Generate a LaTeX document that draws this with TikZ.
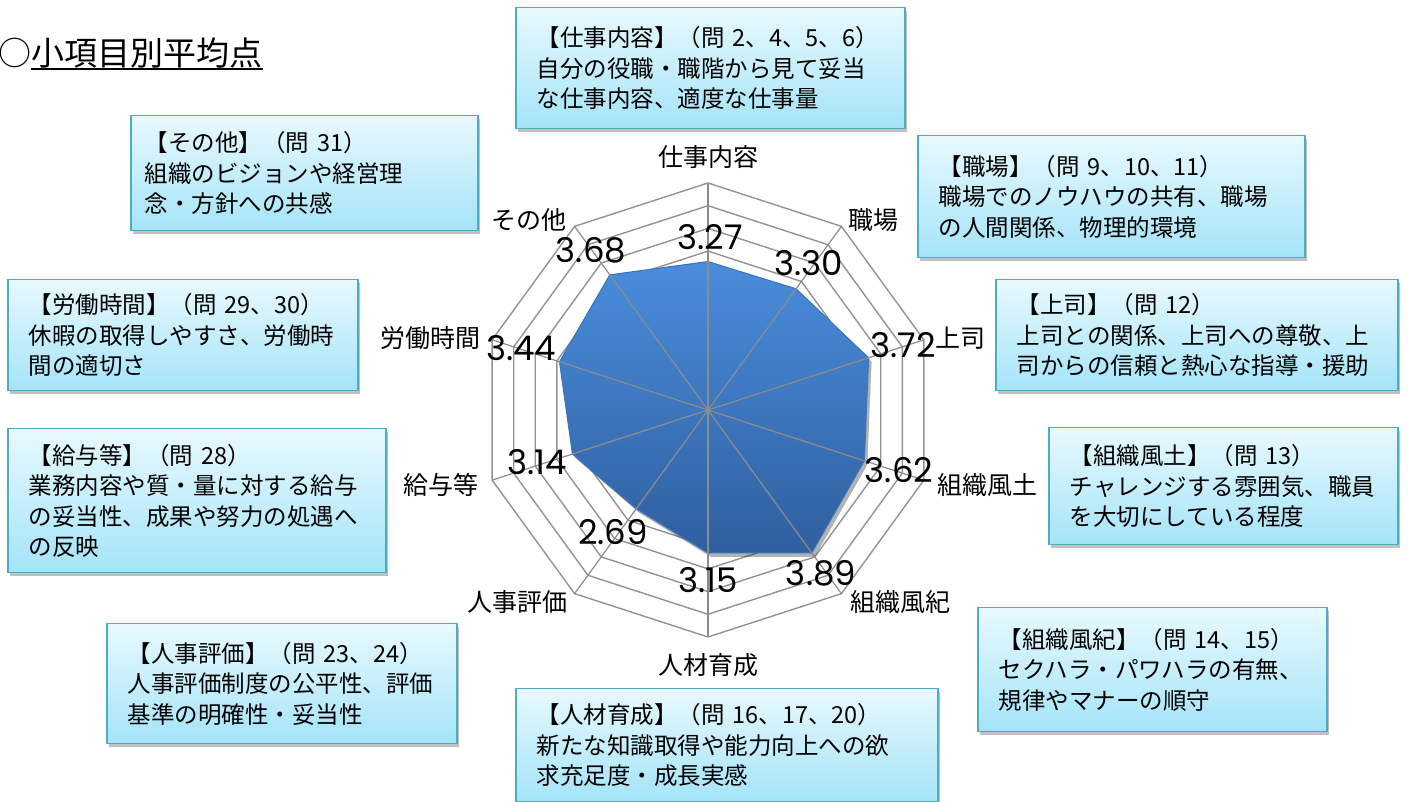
\documentclass[tikz,border=0pt]{standalone}
\usepackage{fontspec}
\setmainfont{Noto Sans CJK JP}
\newfontfamily\numfont{Poppins}
\usetikzlibrary{shadows}

\definecolor{boxline}{HTML}{4BACC6}
\definecolor{boxtop}{HTML}{E8F9FE}
\definecolor{boxbot}{HTML}{A4E4F8}
\definecolor{areatop}{HTML}{4A8DDC}
\definecolor{areabot}{HTML}{2F5F9F}
\definecolor{areaedge}{HTML}{3A74BC}
\definecolor{gridgray}{HTML}{939393}
\definecolor{spokegray}{HTML}{8C8C8C}

\begin{document}
\begin{tikzpicture}[x=1pt,y=1pt]
                \tikzstyle{infobox}=[draw=boxline, line width=1.5pt, top color=boxtop, bottom color=boxbot,
                  drop shadow={shadow xshift=2pt, shadow yshift=-3pt, opacity=0.35, fill=black!70},
                  anchor=north west, inner xsep=21pt, inner ysep=0pt, align=left,
                  font=\fontsize{23.5}{30.5}\selectfont]
                \tikzstyle{axislabel}=[font=\fontsize{25}{25}\selectfont, inner sep=0pt]
                \tikzstyle{val}=[font=\numfont\fontsize{34}{34}\selectfont, inner sep=0pt]
                \tikzstyle{ring}=[draw=gridgray, line width=1.4pt]
                \tikzstyle{spoke}=[draw=spokegray, line width=1.2pt]
                \tikzstyle{area}=[top color=areatop, bottom color=areabot, draw=areaedge, line width=1pt,
                  drop shadow={shadow xshift=3pt, shadow yshift=-4pt, opacity=0.3, fill=black}]
                \tikzstyle{heading}=[font=\fontsize{33}{33}\selectfont, inner sep=0pt, anchor=base west]

                \useasboundingbox (0,0) rectangle (1408,802);

                \node[heading] (mark) at (-2,736.5) {○};
                \node[heading] (title) at (mark.base east) {小項目別平均点};
                \draw[line width=1.6pt] ([yshift=-3.5pt]title.base west) -- ([yshift=-3.5pt]title.base east);

                \begin{scope}[shift={(708,392)}]
                  \coordinate (c) at (0,0);
                  \foreach \k in {1,...,10}
                    \draw[ring] (90:\k*22.7) \foreach \a in {54,18,...,-234} {-- (\a:\k*22.7)} -- cycle;
                  \foreach \i in {0,...,9}
                    \coordinate (o\i) at ({90-36*\i}:227);
                  \foreach \v [count=\i from 0] in {3.27,3.30,3.72,3.62,3.89,3.15,2.69,3.14,3.44,3.68}
                    \coordinate (p\i) at ({90-36*\i}:\v*45.4);
                  \path[area] (p0) -- (p1) -- (p2) -- (p3) -- (p4) -- (p5) -- (p6) -- (p7) -- (p8) -- (p9) -- cycle;
                  \foreach \i in {0,...,9}
                    \draw[spoke] (c) -- (o\i);
                \end{scope}

                \node[val] (v0) at (710,565) {3.27};
                \node[val] (v1) at (809,539) {3.30};
                \node[val] (v2) at (903,457) {3.72};
                \node[val] (v3) at (899,332) {3.62};
                \node[val] (v4) at (821,229) {3.89};
                \node[val] (v5) at (708,222) {3.15};
                \node[val] (v6) at (613,270) {2.69};
                \node[val] (v7) at (537,340) {3.14};
                \node[val] (v8) at (521,454) {3.44};
                \node[val] (v9) at (591,552) {3.68};

                \node[axislabel] (a0) at (708,645) {仕事内容};
                \node[axislabel] (a1) at (873,582) {職場};
                \node[axislabel] (a2) at (960,464) {上司};
                \node[axislabel] (a3) at (987,317) {組織風土};
                \node[axislabel] (a4) at (900,200) {組織風紀};
                \node[axislabel] (a5) at (708,137) {人材育成};
                \node[axislabel] (a6) at (517,200) {人事評価};
                \node[axislabel] (a7) at (441,317) {給与等};
                \node[axislabel] (a8) at (430,464) {労働時間};
                \node[axislabel] (a9) at (529,582) {その他};

                \node[infobox, text width=347pt, minimum height=121pt] (shigoto) at (515,795)
                  {【仕事内容】（問~2、4、5、6）\\自分の役職・職階から見て妥当\\な仕事内容、適度な仕事量};
                \node[infobox, inner xsep=14pt, text width=319pt, minimum height=115pt] (sonota) at (130,687)
                  {【その他】（問~31）\\組織のビジョンや経営理\\念・方針への共感};
                \node[infobox, text width=345pt, minimum height=122pt] (shokuba) at (917,667)
                  {【職場】（問~9、10、11）\\職場でのノウハウの共有、職場\\の人間関係、物理的環境};
                \node[infobox, text width=308pt, minimum height=111pt] (roudou) at (7,523)
                  {【労働時間】（問~29、30）\\休暇の取得しやすさ、労働時\\間の適切さ};
                \node[infobox, text width=360pt, minimum height=111pt] (joushi) at (995,523)
                  {【上司】（問~12）\\上司との関係、上司への尊敬、上\\司からの信頼と熱心な指導・援助};
                \node[infobox, text width=336pt, minimum height=144pt] (kyuyo) at (7,374)
                  {【給与等】（問~28）\\業務内容や質・量に対する給与\\の妥当性、成果や努力の処遇へ\\の反映};
                \node[infobox, text width=307pt, minimum height=117pt] (fudo) at (1048,375)
                  {【組織風土】（問~13）\\チャレンジする雰囲気、職員\\を大切にしている程度};
                \node[infobox, text width=308pt, minimum height=120pt] (jinji) at (106,179)
                  {【人事評価】（問~23、24）\\人事評価制度の公平性、評価\\基準の明確性・妥当性};
                \node[infobox, text width=307pt, minimum height=124pt] (fuki) at (977,195)
                  {【組織風紀】（問~14、15）\\セクハラ・パワハラの有無、\\規律やマナーの順守};
                \node[infobox, text width=380pt, minimum height=113pt] (ikusei) at (515,114)
                  {【人材育成】（問~16、17、20）\\新たな知識取得や能力向上への欲\\求充足度・成長実感};
            \end{tikzpicture}
\end{document}
